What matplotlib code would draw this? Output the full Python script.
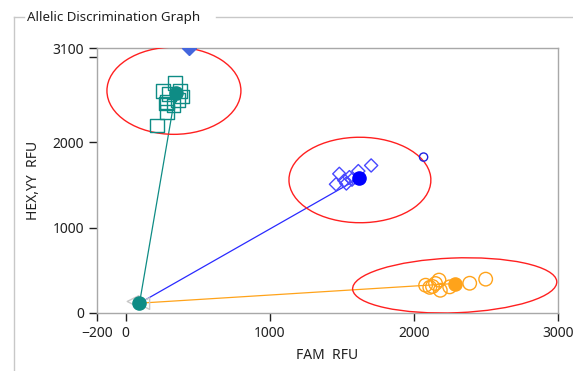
import matplotlib.pyplot as plt
from matplotlib.patches import Ellipse
from matplotlib.lines import Line2D

# --- data ---
allele2_x = [341, 257, 376, 285, 362, 285, 278, 216, 300, 390, 330]
allele2_y = [2690, 2600, 2600, 2470, 2490, 2350, 2450, 2195, 2560, 2530, 2430]
allele2_centre = (345, 2570)

hetero_x = [1482, 1459, 1517, 1552, 1614, 1703, 1531, 1570]
hetero_y = [1628, 1506, 1550, 1589, 1660, 1726, 1515, 1560]
hetero_centre = (1617, 1575)

allele1_x = [2081, 2150, 2174, 2183, 2248, 2387, 2498, 2129, 2110]
allele1_y = [325, 345, 385, 266, 306, 348, 396, 310, 300]
allele1_centre = (2283, 345)

ntc_x = [50, 125]
ntc_y = [135, 110]
origin = (95, 115)

outlier_circle = (2067, 1824)
outlier_diamond = (438, 3105)

# ellipses: centre x, centre y, width, height, angle
ellipses = [
    (334, 2600, 930, 1020, 0),
    (1625, 1556, 985, 1000, 5),
    (2283, 323, 1420, 640, 4),
]

teal = "#0e8c85"
blue = "#2a2aff"
orange = "#ffa31a"

fig = plt.figure(figsize=(5.73, 3.71), dpi=100)
plt.rcParams['font.family'] = ['Noto Sans', 'DejaVu Sans']

# group box frame
W, H = 573, 371
def fx(px): return px / W
def fy(py): return 1 - py / H
box = dict(color="#c8c8c8", lw=1, transform=fig.transFigure)
fig.add_artist(Line2D([fx(14), fx(14)], [fy(17), fy(371)], **box))
fig.add_artist(Line2D([fx(14), fx(24)], [fy(17), fy(17)], **box))
fig.add_artist(Line2D([fx(216), fx(573)], [fy(17), fy(17)], **box))
fig.text(fx(27), fy(17), "Allelic Discrimination Graph", fontsize=9.6,
         va="center", ha="left", color="#202020")

ax = fig.add_axes([97 / W, 1 - 313 / H, (558 - 97) / W, (313 - 48) / H])

# lines from NTC to cluster centres
for c, col in [(allele2_centre, teal), (hetero_centre, blue), (allele1_centre, orange)]:
    ax.plot([origin[0], c[0]], [origin[1], c[1]], color=col, lw=0.9, zorder=2)

for e in ellipses:
    ax.add_patch(Ellipse((e[0], e[1]), e[2], e[3], angle=e[4], fill=False,
                         ec="#ff2020", lw=1.0, zorder=3))

ax.scatter(ntc_x, ntc_y, marker="<", s=70, facecolors="none",
           edgecolors="#c8c8c8", lw=1, zorder=3)

ax.scatter(allele2_x, allele2_y, marker="s", s=95, facecolors="none",
           edgecolors=teal, lw=1, zorder=4)
ax.scatter(hetero_x, hetero_y, marker="D", s=45, facecolors="none",
           edgecolors="#4848ff", lw=1, zorder=4)
ax.scatter(allele1_x, allele1_y, marker="o", s=95, facecolors="none",
           edgecolors=orange, lw=1, zorder=4)

ax.scatter(*allele2_centre, marker="o", s=90, color=teal, zorder=5)
ax.scatter(*hetero_centre, marker="o", s=90, color="#0000ff", zorder=5)
ax.scatter(*allele1_centre, marker="o", s=90, color=orange, zorder=5)
ax.scatter(*origin, marker="o", s=90, color=teal, zorder=5)

ax.scatter(*outlier_circle, marker="o", s=35, facecolors="none",
           edgecolors="#2020e0", lw=1, zorder=4)
ax.plot([outlier_diamond[0]], [outlier_diamond[1]], marker="D", ms=7,
        color="#4466dd", ls="none", clip_on=True, zorder=4)

ax.set_xlim(-200, 3000)
ax.set_ylim(0, 3100)
ax.set_xticks([-200, 0, 1000, 2000, 3000])
ax.set_yticks([0, 1000, 2000, 3000, 3100])
ax.set_yticklabels(["0", "1000", "2000", "", "3100"])
ax.tick_params(direction="out", length=6, width=1, color="#202020",
               labelsize=10, labelcolor="#202020")
for s in ax.spines.values():
    s.set_color("#a8a8a8")
    s.set_linewidth(1)

ax.set_xlabel("FAM  RFU", fontsize=10, color="#202020", labelpad=5)
ax.set_ylabel("HEX,YY  RFU", fontsize=10, color="#202020", labelpad=8)

fig.savefig("out.png", dpi=100)
